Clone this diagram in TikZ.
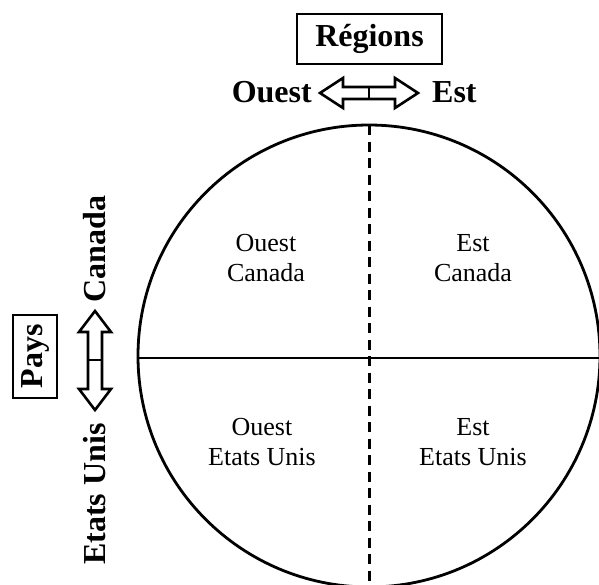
\documentclass[tikz,border=0pt]{standalone}
\usepackage{fontspec}
\setmainfont{Liberation Serif}
\begin{document}
\begin{tikzpicture}[x=1pt,y=-1pt,
  boldlab/.style={font=\fontsize{32}{36}\selectfont\bfseries, inner sep=0pt},
  celllab/.style={font=\fontsize{26}{30}\selectfont, align=center, inner sep=0pt},
  framebox/.style={draw, line width=2.8pt, inner sep=0pt},
  hollow/.style={draw, line width=2.6pt, fill=white, line join=miter},
  divider/.style={line width=2.8pt},
  dashdiv/.style={line width=3pt, dash pattern=on 10pt off 6.5pt}]
\useasboundingbox (0,0) rectangle (599,584);
\begin{scope}
\clip (0,0) rectangle (599,584);
% circle and dividers
\coordinate (c) at (369,356);
\draw[line width=2.8pt] (c) circle[radius=231];
\coordinate (top) at (369,125);
\coordinate (bot) at (369,590);
\coordinate (lft) at (138,358);
\coordinate (rgt) at (605,358);
\draw[divider] (lft) -- (rgt);
\draw[dashdiv] (top) -- (bot);
\end{scope}
% cell labels
\node[celllab] (oc) at (266,258) {Ouest\\Canada};
\node[celllab] (ec) at (473,258) {Est\\Canada};
\node[celllab] (ou) at (262,442) {Ouest\\Etats Unis};
\node[celllab] (eu) at (473,442) {Est\\Etats Unis};
% top: Regions
\node[framebox, minimum width=145pt, minimum height=50pt] (reg) at (369.5,39) {};
\node[boldlab] (regt) at (reg.center) {Régions};
\node[boldlab, anchor=east] (ouest) at (312,92) {Ouest};
\node[boldlab, anchor=west] (est) at (432,92) {Est};
\draw[hollow] (320,93) -- (343,78) -- (343,87) -- (395,87) -- (395,78) -- (418,93)
  -- (395,108) -- (395,99) -- (343,99) -- (343,108) -- cycle;
\draw[line width=2.6pt] (369,87) -- (369,99);
% left: Pays
\node[framebox, minimum width=44pt, minimum height=83pt] (pays) at (35,356.5) {};
\node[boldlab, rotate=90] (payst) at (pays.center) {Pays};
\node[boldlab, rotate=90] (can) at (95,249) {Canada};
\node[boldlab, rotate=90] (etu) at (95,494) {Etats Unis};
\draw[hollow] (95,311) -- (111,332) -- (102,332) -- (102,389) -- (111,389) -- (95,410)
  -- (79,389) -- (88,389) -- (88,332) -- (79,332) -- cycle;
\draw[line width=2.6pt] (88,360) -- (102,360);
\end{tikzpicture}
\end{document}
